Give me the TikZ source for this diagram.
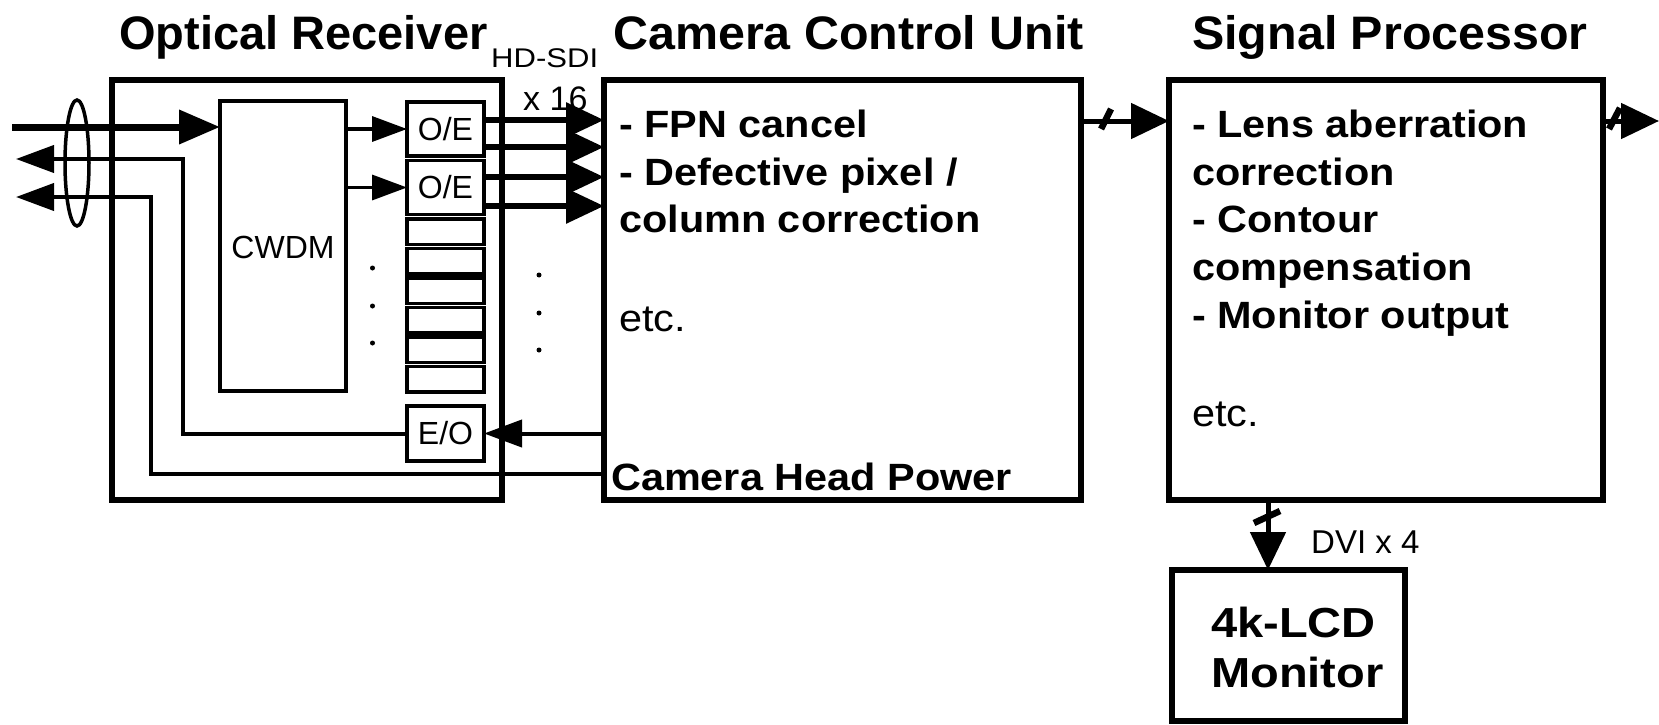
\documentclass[tikz,border=0pt]{standalone}
\usepackage{fontspec}
\setmainfont{Liberation Sans}
\newfontfamily\widefont{Liberation Sans}[FakeStretch=1.09]
\newfontfamily\monfont{Liberation Sans}[FakeStretch=1.12]
\newfontfamily\titlefont{Liberation Sans}[FakeStretch=1.03]
\newfontfamily\hdfont{Liberation Sans}[FakeStretch=1.15]
\usetikzlibrary{arrows.meta,calc}
\begin{document}
\begin{tikzpicture}[x=1pt,y=-1pt,line join=miter,
  bigbox/.style={draw,line width=6pt,inner sep=0pt,outer sep=0pt},
  smallbox/.style={draw,line width=3.5pt,inner sep=0pt,outer sep=0pt,minimum width=77pt,font=\fontsize{32}{36}\selectfont},
  titletext/.style={anchor=base west,inner sep=0pt,font=\titlefont\bfseries\fontsize{47}{56}\selectfont},
  bodytext/.style={anchor=base west,inner sep=0pt,font=\widefont\bfseries\fontsize{38}{48}\selectfont},
  bodyreg/.style={anchor=base west,inner sep=0pt,font=\widefont\fontsize{38}{48}\selectfont},
  monitortext/.style={anchor=base west,inner sep=0pt,font=\monfont\bfseries\fontsize{42}{50}\selectfont},
  smalltext/.style={anchor=base west,inner sep=0pt,font=\fontsize{33}{40}\selectfont},
  bigarrow/.style={line width=6pt,-{Triangle[length=38pt,width=34pt]}},
  inarrow/.style={line width=7pt,-{Triangle[length=41pt,width=33pt]}},
  thinarrow/.style={line width=3.5pt,-{Triangle[length=35pt,width=25pt]}},
  retarrow/.style={line width=4pt,-{Triangle[length=38pt,width=27pt]}},
  busarrow/.style={line width=5pt,-{Triangle[length=38pt,width=35pt]}},
  slashmark/.style={line width=6.5pt},
  dotmark/.style={fill=black}]
\useasboundingbox (0,0) rectangle (1659,725);

% titles
\node[titletext,font=\bfseries\fontsize{47}{56}\selectfont] (t1) at (119,49) {Optical Receiver};
\node[titletext] (t2) at (613,49) {Camera Control Unit};
\node[titletext] (t3) at (1192,49) {Signal Processor};

% main boxes
\node[bigbox,minimum width=390pt,minimum height=420pt] (or) at (307,290) {};
\node[bigbox,minimum width=477pt,minimum height=420pt] (ccu) at (842.5,290) {};
\node[bigbox,minimum width=434pt,minimum height=420pt] (sp) at (1386,290) {};
\node[bigbox,minimum width=233pt,minimum height=151pt] (mon) at (1288.5,645.5) {};

% inner boxes
\node[smallbox,minimum width=126pt,minimum height=290pt] (cwdm) at (283,246) {};
\node[font=\fontsize{32}{36}\selectfont,inner sep=0pt] (cwdmt) at (283,247) {CWDM};
\node[smallbox,minimum height=54pt] (oe1) at (445.5,129) {O/E};
\node[smallbox,minimum height=54pt] (oe2) at (445.5,187.5) {O/E};
\node[smallbox,minimum height=25.5pt] (e1) at (445.5,231.75) {};
\node[smallbox,minimum height=25.5pt] (e2) at (445.5,261.25) {};
\node[smallbox,minimum height=25.5pt] (e3) at (445.5,290.75) {};
\node[smallbox,minimum height=25.5pt] (e4) at (445.5,320.25) {};
\node[smallbox,minimum height=25.5pt] (e5) at (445.5,349.75) {};
\node[smallbox,minimum height=25.5pt] (e6) at (445.5,379.25) {};
\node[smallbox,minimum height=55pt] (eo) at (445.5,433.5) {E/O};

% dots
\fill[dotmark] (372.5,268) circle [radius=2.5];
\fill[dotmark] (372.5,306) circle [radius=2.5];
\fill[dotmark] (372.5,343) circle [radius=2.5];
\fill[dotmark] (539,275) circle [radius=2.5];
\fill[dotmark] (539,313) circle [radius=2.5];
\fill[dotmark] (539,350) circle [radius=2.5];

% fibre input and outputs
\coordinate (in) at (12,127);
\coordinate (out1) at (16,159);
\coordinate (out2) at (16,197);
\coordinate (c1) at (183,159);
\coordinate (c2) at (151,197);
\coordinate (c3) at (151,474);
\draw[inarrow] (in) -- (in -| cwdm.west);
\draw[retarrow] (eo.west) -| (c1) -- (out1);
\draw[retarrow] (ccu.west |- c3) -- (c3) -- (c2) -- (out2);
\draw[line width=3.5pt] (77,163) ellipse [x radius=12, y radius=63];

% CWDM to O/E
\draw[thinarrow] (cwdm.east |- oe1.west) -- (oe1.west);
\draw[thinarrow] (cwdm.east |- oe2.west) -- (oe2.west);

% O/E to CCU
\coordinate (a1) at ($(oe1.east)+(0,-9)$);
\coordinate (a2) at ($(oe1.east)+(0,18)$);
\coordinate (a3) at ($(oe2.east)+(0,-10.5)$);
\coordinate (a4) at ($(oe2.east)+(0,18.5)$);
\draw[bigarrow] (a1) -- (a1 -| ccu.west);
\draw[bigarrow] (a2) -- (a2 -| ccu.west);
\draw[bigarrow] (a3) -- (a3 -| ccu.west);
\draw[bigarrow] (a4) -- (a4 -| ccu.west);
\node[anchor=base west,inner sep=0pt,font=\hdfont\fontsize{27}{30}\selectfont] (hd) at (491,67) {HD-SDI};
\node[smalltext,font=\fontsize{34}{40}\selectfont] (x16) at (523,110) {x 16};

% CCU to E/O
\draw[retarrow] (ccu.west |- eo.east) -- (eo.east);

% CCU text
\node[bodytext] (c1t) at (619,137.5) {- FPN cancel};
\node[bodytext] (c2t) at (619,185) {- Defective pixel /};
\node[bodytext] (c3t) at (619,232) {column correction};
\node[bodyreg] (c4t) at (619,331) {etc.};
\node[bodytext] (c5t) at (611,490) {Camera Head Power};

% CCU to SP and SP out
\coordinate (row) at (0,121);
\coordinate (outR) at (1659,121);
\draw[busarrow] (ccu.east |- row) -- (sp.west |- row);
\draw[slashmark] (1101,129) -- (1111,109);
\draw[busarrow] (sp.east |- row) -- (outR);
\draw[slashmark] (1609,129) -- (1620,108);

% SP text
\node[bodytext] (s1) at (1192,137.5) {- Lens aberration};
\node[bodytext] (s2) at (1192,185) {correction};
\node[bodytext] (s3) at (1192,232) {- Contour};
\node[bodytext] (s4) at (1192,280) {compensation};
\node[bodytext] (s5) at (1192,328) {- Monitor output};
\node[bodyreg] (s6) at (1192,426) {etc.};

% SP to monitor
\coordinate (dcol) at (1268,0);
\draw[busarrow] (sp.south -| dcol) -- (mon.north -| dcol);
\draw[slashmark] (1254,523) -- (1280,511);
\node[smalltext] (dvi) at (1311,553) {DVI x 4};
\node[monitortext] (m1) at (1211,637) {4k-LCD};
\node[monitortext] (m2) at (1211,687) {Monitor};
\end{tikzpicture}
\end{document}
